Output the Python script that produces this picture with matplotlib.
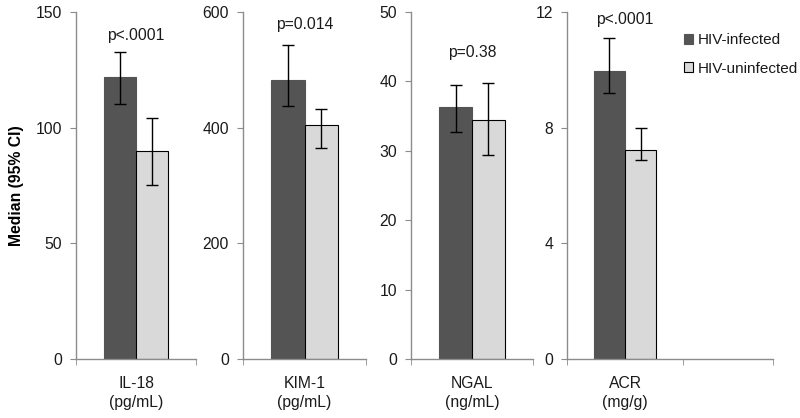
import matplotlib
matplotlib.use("Agg")
import matplotlib.pyplot as plt
from matplotlib.patches import Patch

plt.rcParams['font.family'] = ['Liberation Sans', 'DejaVu Sans']

markers = ["IL-18\n(pg/mL)", "KIM-1\n(pg/mL)", "NGAL\n(ng/mL)", "ACR\n(mg/g)"]
infected = [121.9, 482, 36.3, 9.96]
inf_lo = [110.2, 437, 32.7, 9.2]
inf_hi = [132.7, 543, 39.5, 11.1]
uninfected = [89.9, 405, 34.4, 7.23]
uninf_lo = [75.2, 365, 29.4, 6.88]
uninf_hi = [104.2, 432, 39.8, 7.99]
pvalues = ["p<.0001", "p=0.014", "p=0.38", "p<.0001"]
pval_y = [140, 579, 44.2, 11.75]
ymax = [150, 600, 50, 12]
yticks = [[0, 50, 100, 150], [0, 200, 400, 600], [0, 10, 20, 30, 40, 50], [0, 4, 8, 12]]
series_names = ["HIV-infected", "HIV-uninfected"]

W, H = 800, 418
fig = plt.figure(figsize=(W / 100, H / 100), dpi=100)
panels_px = [(76, 196), (243, 366), (411, 533), (567, 773)]
top_px, bot_px = 12, 359

dark = "#545454"
light = "#d9d9d9"
axis_col = "#8c8c8c"
text_col = "#1a1a1a"
fs = 11.3

for i, (x0, x1) in enumerate(panels_px):
    ax = fig.add_axes([x0 / W, (H - bot_px) / H, (x1 - x0) / W, (bot_px - top_px) / H])
    bw = 0.27
    ax.bar(-bw / 2, infected[i], width=bw, color=dark, edgecolor=dark, linewidth=0.8, zorder=2)
    ax.bar(bw / 2, uninfected[i], width=bw, color=light, edgecolor="black", linewidth=0.8, zorder=2)
    ax.errorbar([-bw / 2], [infected[i]],
                yerr=[[infected[i] - inf_lo[i]], [inf_hi[i] - infected[i]]],
                fmt="none", ecolor="black", elinewidth=1, capsize=4, capthick=1, zorder=3)
    ax.errorbar([bw / 2], [uninfected[i]],
                yerr=[[uninfected[i] - uninf_lo[i]], [uninf_hi[i] - uninfected[i]]],
                fmt="none", ecolor="black", elinewidth=1, capsize=4, capthick=1, zorder=3)
    ax.text(0, pval_y[i], pvalues[i], ha="center", va="center", fontsize=fs, color=text_col)
    ax.set_ylim(0, ymax[i])
    if i == 3:
        ax.set_xlim(-0.5, 1.276)
        ax.set_xticks([-0.5, 0.5, 1.276], minor=True)
    else:
        ax.set_xlim(-0.5, 0.5)
        ax.set_xticks([-0.5, 0.5], minor=True)
    ax.set_xticks([0])
    ax.set_xticklabels([markers[i]], fontsize=fs, color=text_col, linespacing=1.4)
    ax.tick_params(axis="x", which="major", length=0, pad=12)
    ax.tick_params(axis="x", which="minor", length=4, direction="out", color=axis_col)
    ax.set_yticks(yticks[i])
    ax.tick_params(axis="y", length=4, direction="out", color=axis_col, labelsize=fs,
                   labelcolor=text_col, pad=6)
    for s in ["top", "right"]:
        ax.spines[s].set_visible(False)
    for s in ["left", "bottom"]:
        ax.spines[s].set_color(axis_col)
        ax.spines[s].set_linewidth(1)
    ax.patch.set_alpha(0)
    if i == 0:
        ax.set_ylabel("Median (95% CI)", fontsize=fs, fontweight="bold", labelpad=8)

handles = [Patch(facecolor=dark, edgecolor=dark, linewidth=0.8),
           Patch(facecolor=light, edgecolor="black", linewidth=0.8)]
fig.legend(handles, series_names, loc="upper left", bbox_to_anchor=(678 / W, 1 - 27 / H),
           frameon=False, fontsize=11, handlelength=0.6, handleheight=0.6,
           handletextpad=0.3, labelspacing=0.95, borderaxespad=0, labelcolor=text_col)

fig.savefig("out.png", dpi=100)
